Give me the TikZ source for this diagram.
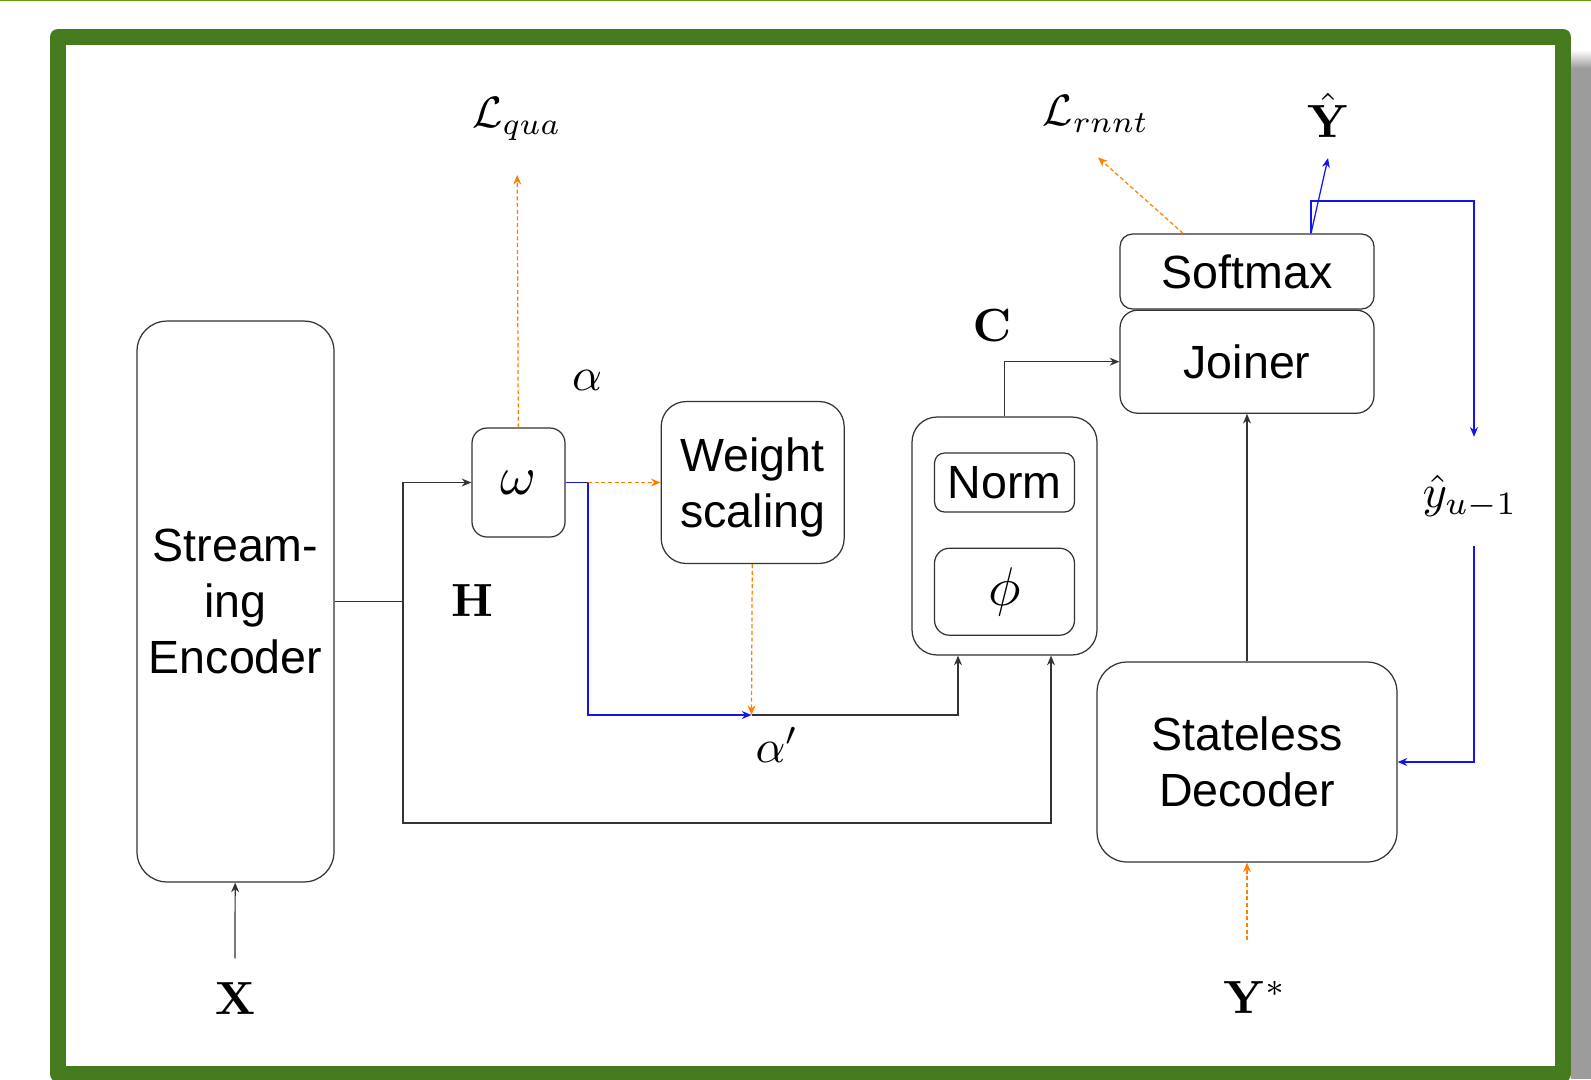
\RequirePackage{fix-cm}
\documentclass[tikz,border=0pt]{standalone}
\usepackage[no-math]{fontspec}
\usepackage{graphicx}
\setmainfont{Liberation Sans}
\usetikzlibrary{arrows.meta,positioning}
\definecolor{framegreen}{RGB}{69,122,30}
\definecolor{topgreen}{RGB}{104,152,12}
\definecolor{shadowgray}{RGB}{156,156,156}
\definecolor{linegray}{RGB}{51,51,51}
\definecolor{lossorange}{RGB}{255,128,0}
\definecolor{fbblue}{RGB}{20,20,235}
% math symbols set at 10pt and blown up
\newcommand{\symtxt}[2][2.65]{\scalebox{#1}{\fontsize{10}{12}\selectfont$#2$}}

\begin{document}
\begin{tikzpicture}[x=0.02cm,y=-0.02cm,>={Stealth[length=5.5pt,width=4.5pt]},
  line width=0.7pt,font=\fontsize{26.5}{32}\selectfont,
  box/.style={draw=linegray,align=center,inner sep=0pt},
  lbl/.style={inner sep=0pt},
  conn/.style={draw=linegray},
  loss/.style={draw=lossorange,dash pattern=on 2.3pt off 1.5pt},
  fb/.style={draw=fbblue}]
  % page, frame and its shadow
  \useasboundingbox (0,0) rectangle (1591,1079);
  \fill[white] (0,0) rectangle (1591,1079);
  \draw[topgreen,line width=0.8pt] (0,0.7) -- (1591,0.7);
  \fill[shadowgray] (1571,68) rectangle (1591,1079);
  \shade[top color=white,bottom color=shadowgray] (1571,50) rectangle (1591,68);
  \draw[framegreen,line width=0.32cm,line join=round] (58,37) rectangle (1563,1074);

  % blocks
  \node[box,rounded corners=0.6cm,minimum width=3.94cm,minimum height=11.22cm] (enc)
       at (235.5,601.5) {Stream-\\ing\\Encoder};
  \node[box,rounded corners=0.3cm,minimum width=1.86cm,minimum height=2.18cm] (omega)
       at (518.5,482.5) {\symtxt[3.1]{\omega}};
  \node[box,rounded corners=0.5cm,minimum width=3.66cm,minimum height=3.24cm,
        text depth=0pt,right=1.9cm of omega] (wscale) {Weight\\scaling};
  \node[box,rounded corners=0.5cm,minimum width=3.7cm,minimum height=4.76cm] (cnorm)
       at (1004.5,536) {};
  \node[box,rounded corners=0.2cm,minimum width=2.8cm,minimum height=1.18cm,
        below=0.72cm of cnorm.north] (norm) {Norm};
  \node[box,rounded corners=0.3cm,minimum width=2.8cm,minimum height=1.74cm,
        below=0.7cm of norm] (phi) {\symtxt[3.1]{\phi}};
  \node[box,rounded corners=0.25cm,minimum width=5.08cm,minimum height=1.5cm] (smax)
       at (1247,271.5) {Softmax};
  \node[box,rounded corners=0.35cm,minimum width=5.08cm,minimum height=2.06cm,
        below=0pt of smax] (joiner) {Joiner};
  \node[box,rounded corners=0.6cm,minimum width=6cm,minimum height=4cm] (dec)
       at (1247,762) {Stateless\\Decoder};

  % symbols
  \node[lbl] (lqua) at (517,119) {\symtxt[2.5]{\mathcal{L}_{qua}}};
  \node[lbl] (lrnnt) at (1096,114) {\symtxt[2.5]{\mathcal{L}_{rnnt}}};
  \node[lbl,anchor=south] (yhat) at (1328,138) {\symtxt{\hat{\mathbf{Y}}}};
  \node[lbl] (alpha) at (587,380) {\symtxt{\alpha}};
  \node[lbl] (hlab) at (472,601) {\symtxt{\mathbf{H}}};
  \node[lbl] (alphap) at (777,745) {\symtxt{\alpha'}};
  \node[lbl] (clab) at (992,326) {\symtxt{\mathbf{C}}};
  \node[lbl] (yprev) at (1470,497) {\symtxt{\hat{y}_{u-1}}};
  \node[lbl,anchor=base] (xin) at (235,1014) {\symtxt{\mathbf{X}}};
  \node[lbl,anchor=base] (ystar) at (1255,1013) {\symtxt{\mathbf{Y}^*}};

  \coordinate (hsplit) at (403,601.5);
  \coordinate (hlow) at (403,823);
  \coordinate (abranch) at (588,482.5);
  \coordinate (amerge) at (751.5,715);
  \coordinate (fbturn) at (1474,201);

  % encoder output H
  \draw[conn,->,shorten <=0.46cm] (xin) -- (enc);
  \draw[conn] (enc) -- (hsplit);
  \draw[conn,->] (hsplit) |- (omega);
  \draw[conn,->] (hsplit) -- (hlow) -| ([xshift=0.93cm]cnorm.south);
  % alpha and scaled alpha'
  \draw[fb] (omega) -- (abranch);
  \draw[loss,->] (abranch) -- (wscale);
  \draw[fb,->] (abranch) |- (amerge);
  \draw[loss,->] (wscale) -- (amerge);
  \draw[conn,->] (amerge) -| ([xshift=-0.93cm]cnorm.south);
  \draw[loss,->,shorten >=0.68cm] (omega) -- (lqua);
  % joiner side
  \draw[conn,->] (cnorm) |- (joiner);
  \draw[conn,->] (dec) -- (joiner);
  \draw[loss,->,shorten <=0.8cm] (dec |- ystar.north) -- (dec);
  \draw[loss,->] ([xshift=-1.28cm]smax.north) -- ([xshift=0.04cm,yshift=-0.49cm]lrnnt.south);
  \draw[fb,->] ([xshift=1.28cm]smax.north) -- ([yshift=-0.4cm]yhat.south);
  \draw[fb,->,shorten >=0.76cm] ([xshift=1.28cm]smax.north) |- (fbturn) -- (fbturn |- yprev.north);
  \draw[fb,->,shorten <=0.54cm] (fbturn |- yprev.south) |- (dec);
\end{tikzpicture}
\end{document}
